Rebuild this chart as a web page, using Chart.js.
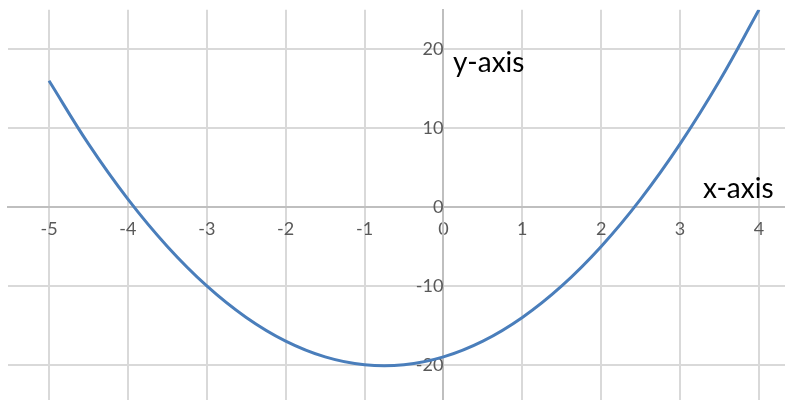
<!DOCTYPE html>
<html>
<head>
<meta charset="utf-8">
<script src="https://cdn.jsdelivr.net/npm/chart.js@4"></script>
<style>
  html, body { margin: 0; padding: 0; background: #fff; overflow: hidden; }
  #wrap { position: relative; top: -17px; width: 785px; height: 448px; }
</style>
</head>
<body>
<div id="wrap"><canvas id="myChart"></canvas></div>
<script>
// values
const xValues = [-5, -4.5, -4, -3.5, -3, -2.5, -2, -1.5, -1, -0.5, 0, 0.5, 1, 1.5, 2, 2.5, 3, 3.5, 4];
const yValues = [16, 8, 1, -5, -10, -14, -17, -19, -20, -20, -19, -17, -14, -10, -5, 1, 8, 16, 25];
const xTicks = [-5, -4, -3, -2, -1, 0, 1, 2, 3, 4];
const yTicks = [-20, -10, 0, 10, 20];

const myChartElement = document.getElementById('myChart');

let points = xValues.map((x, i) => ({ x: x, y: yValues[i] }));

// "y-axis" / "x-axis" captions, placed in data units
const axisCaptions = {
  id: 'axisCaptions',
  afterDraw(chart) {
    const ctx = chart.ctx;
    const xs = chart.scales.x;
    const ys = chart.scales.y;
    ctx.save();
    ctx.font = '28px Lato';
    ctx.fillStyle = '#000';
    ctx.textAlign = 'left';
    ctx.textBaseline = 'alphabetic';
    ctx.fillText('y-axis', xs.getPixelForValue(0.12), ys.getPixelForValue(17.1));
    ctx.fillText('x-axis', xs.getPixelForValue(3.29), ys.getPixelForValue(1.15));
    ctx.restore();
  }
};

let tickFont = { family: 'Lato', size: 18 };

let myChart = new Chart(myChartElement, {
  type: 'line',
  data: {
    datasets: [{
      data: points,
      borderColor: '#4a7ebb',
      borderWidth: 3,
      pointRadius: 0,
      tension: 0.4,
      fill: false
    }]
  },
  options: {
    responsive: true,
    maintainAspectRatio: false,
    animation: false,
    layout: { padding: { left: 8, top: 10, right: 0, bottom: 0 } },
    plugins: {
      legend: { display: false },
      tooltip: { enabled: false }
    },
    scales: {
      x: {
        type: 'linear',
        position: { y: 0 },
        min: -5.52,
        max: 4.33,
        afterBuildTicks: (scale) => { scale.ticks = xTicks.map(v => ({ value: v })); },
        grid: { color: '#d9d9d9', lineWidth: 2, drawTicks: false },
        border: { color: '#bfbfbf', width: 2 },
        ticks: { font: tickFont, color: '#595959', padding: 11, maxRotation: 0 }
      },
      y: {
        type: 'linear',
        position: { x: 0 },
        min: -25,
        max: 25,
        afterBuildTicks: (scale) => { scale.ticks = yTicks.map(v => ({ value: v })); },
        grid: { color: '#d9d9d9', lineWidth: 2, drawTicks: false },
        border: { color: '#bfbfbf', width: 2 },
        ticks: { font: tickFont, color: '#595959', padding: 16 }
      }
    }
  },
  plugins: [axisCaptions]
});
</script>
</body>
</html>
